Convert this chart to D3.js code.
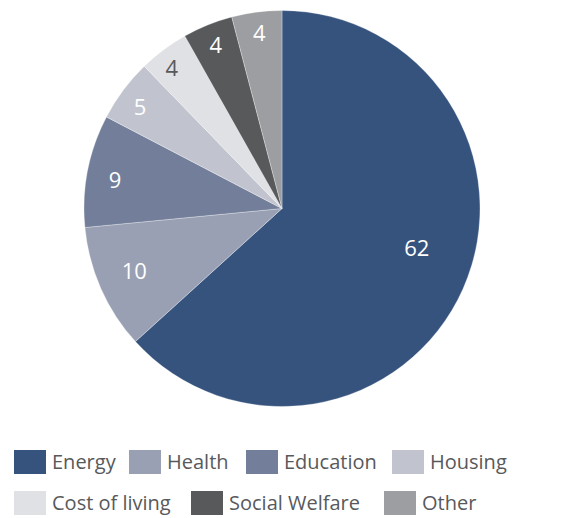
<!DOCTYPE html>
<html>
<head>
<meta charset="utf-8">
<script src="https://cdn.jsdelivr.net/npm/d3@7/dist/d3.min.js"></script>
<style>
  html, body { margin: 0; padding: 0; background: #fff; }
  svg { display: block; font-family: "Open Sans", "Noto Sans", sans-serif; }
</style>
</head>
<body>
<svg id="chart" width="576" height="518"></svg>
<script>
// Share of spending by category
const categories = ["Energy", "Health", "Education", "Housing", "Cost of living", "Social Welfare", "Other"];
const values = [62, 10, 9, 5, 4, 4, 4];
const colors = ["#36537e", "#9aa0b4", "#737f9a", "#c1c4ce", "#e0e1e5", "#58595b", "#9d9ea1"];
const labelColors = ["#fff", "#fff", "#fff", "#fff", "#58595b", "#fff", "#fff"];

// label placement: distance from centre as a share of the radius, plus an angular nudge (deg)
const labelRadius = [0.71, 0.81, 0.855, 0.88, 0.9, 0.89, 0.895];
const labelTurn = [-7.4, 1, -1.5, -1.3, -1.5, 0, 0];

// legend layout: two rows
const legendRows = [[0, 1, 2, 3], [4, 5, 6]];
const legendX = [[14, 129, 246, 392], [14, 191, 384]];
const legendY = [450, 491];

const svg = d3.select("#chart");
const cx = 282, cy = 208.5, R = 198;

const data = categories.map((c, i) => ({ category: c, value: values[i], i }));

const pie = d3.pie().value(d => d.value).sort(null);
const arc = d3.arc().innerRadius(0).outerRadius(R);
const arcs = pie(data);

const g = svg.append("g").attr("transform", `translate(${cx},${cy})`);

g.selectAll("path.slice")
  .data(arcs)
  .join("path")
  .attr("class", "slice")
  .attr("d", arc)
  .attr("fill", d => colors[d.data.i])
  .attr("stroke", "#ffffff")
  .attr("stroke-width", 0.5)
  .attr("stroke-opacity", 0.6);

g.selectAll("text.val")
  .data(arcs)
  .join("text")
  .attr("class", "val")
  .attr("transform", d => {
    const a = (d.startAngle + d.endAngle) / 2 + labelTurn[d.data.i] * Math.PI / 180;
    const r = R * labelRadius[d.data.i];
    return `translate(${r * Math.sin(a)},${-r * Math.cos(a)})`;
  })
  .attr("text-anchor", "middle")
  .attr("dy", "0.36em")
  .attr("font-size", 22)
  .attr("fill", d => labelColors[d.data.i])
  .text(d => d.data.value);

const legend = svg.append("g");
legendRows.forEach((row, r) => {
  row.forEach((idx, k) => {
    const item = legend.append("g")
      .attr("transform", `translate(${legendX[r][k]},${legendY[r]})`);
    item.append("rect")
      .attr("width", 32).attr("height", 24)
      .attr("fill", colors[idx]);
    item.append("text")
      .attr("x", 38).attr("y", 12)
      .attr("dy", "0.36em")
      .attr("font-size", 20)
      .attr("fill", "#58595b")
      .text(categories[idx]);
  });
});
</script>
</body>
</html>
